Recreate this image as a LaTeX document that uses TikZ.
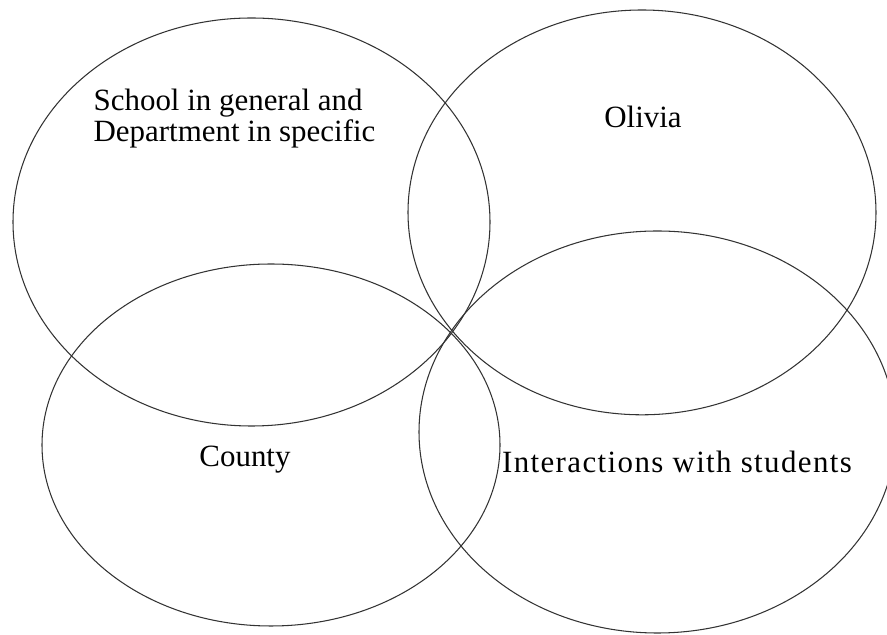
\documentclass[tikz,border=0pt]{standalone}
\usepackage{fontspec}
\setmainfont{Liberation Serif}
\tikzset{
  venn/.style={line width=0.6pt,color=black!80},
  lbl/.style={font=\fontsize{17.6}{17.6}\selectfont,inner sep=0pt}
}

\begin{document}
\begin{tikzpicture}[line cap=round,line join=round,x=1.0cm,y=1.0cm]
		\useasboundingbox (0.,0.) rectangle (17.74,12.7);
		\clip (0.,0.) rectangle (17.74,12.7);
		\draw [venn] (5.03,8.26) ellipse (4.77cm and 4.08cm);
		\draw [venn] (12.84,8.452) ellipse (4.68cm and 4.048cm);
		\draw [venn] (5.42,3.8) ellipse (4.58cm and 3.62cm);
		\draw [venn] (13.148,4.06) ellipse (4.768cm and 4.02cm);
		\node [lbl,align=left] (school) at (4.69,10.33) {School in general and\\Department in specific};
		\node [lbl] (olivia) at (12.86,10.36) {Olivia};
		\node [lbl] (county) at (4.9,3.5) {County};
		\node [lbl] (interact) at (13.54,3.46) {\addfontfeatures{LetterSpace=4.5}Interactions with students};
	\end{tikzpicture}
\end{document}
